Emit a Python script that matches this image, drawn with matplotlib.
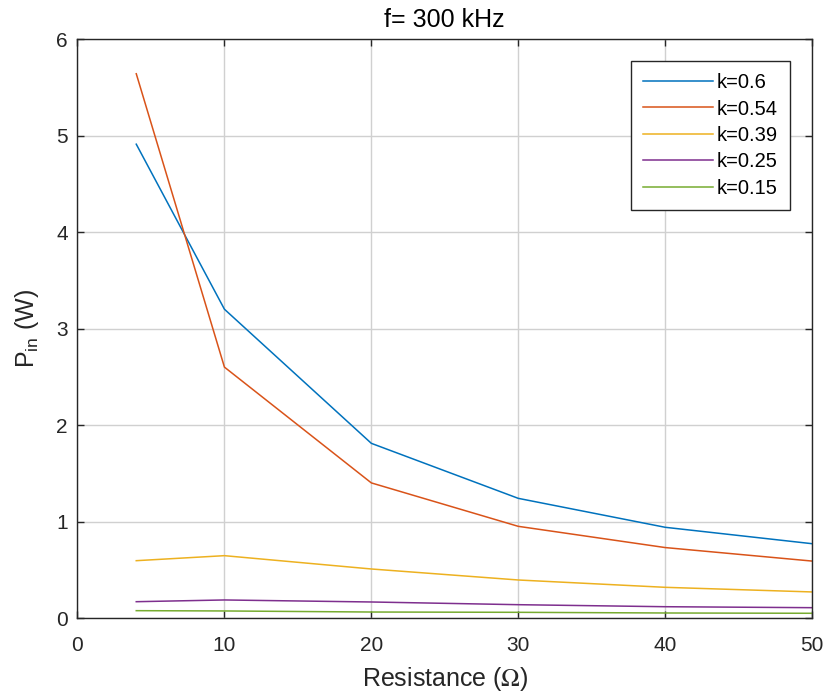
import matplotlib
matplotlib.use("Agg")
import matplotlib.pyplot as plt

plt.rcParams['font.family'] = ['Liberation Sans', 'DejaVu Sans']
plt.rcParams['mathtext.fontset'] = 'custom'
plt.rcParams['mathtext.rm'] = 'Liberation Sans'

resistance = [4, 10, 20, 30, 40, 50]
labels = ['k=0.6', 'k=0.54', 'k=0.39', 'k=0.25', 'k=0.15']
k060 = [4.91, 3.20, 1.81, 1.24, 0.94, 0.77]
k054 = [5.64, 2.60, 1.40, 0.95, 0.73, 0.59]
k039 = [0.594, 0.646, 0.508, 0.394, 0.318, 0.27]
k025 = [0.169, 0.187, 0.166, 0.138, 0.117, 0.107]
k015 = [0.076, 0.073, 0.062, 0.059, 0.052, 0.049]
colors = ['#0072BD', '#D95319', '#EDB120', '#7E2F8E', '#77AC30']

fig = plt.figure(figsize=(8.27, 6.94), dpi=100)
ax = fig.add_axes([0.0937, 0.1095, 0.8883, 0.8343])
for s, lab, c in zip([k060, k054, k039, k025, k015], labels, colors):
    ax.plot(resistance, s, color=c, lw=1.1, label=lab)

ax.set_xlim(0, 50)
ax.set_ylim(0, 6)
ax.set_xticks([0, 10, 20, 30, 40, 50])
ax.set_yticks([0, 1, 2, 3, 4, 5, 6])
ax.grid(True, color='#d0d0d0', lw=1)
ax.set_axisbelow(True)
ax.tick_params(direction='in', top=True, right=True, labelsize=15, length=5, width=1, colors='#262626')
ax.tick_params(axis='x', pad=13)
ax.tick_params(axis='y', pad=7)
for sp in ax.spines.values():
    sp.set_color('#262626')
    sp.set_linewidth(1)
ax.set_xlabel(r'Resistance ($\Omega$)', fontsize=18, color='#262626', labelpad=7,
              math_fontfamily='stix')
ax.set_ylabel(r'P$_{\mathregular{in}}$ (W)', fontsize=18, color='#262626', labelpad=11)
ax.set_title('f= 300 kHz', fontsize=18, color='#000000', pad=9)

leg = ax.legend(loc='upper right', bbox_to_anchor=(0.970, 0.962), borderaxespad=0,
                fontsize=14.5, frameon=True,
                fancybox=False, edgecolor='#262626', framealpha=1, handlelength=3.45,
                borderpad=0.6, labelspacing=0.37, handletextpad=0.2)
leg.get_frame().set_linewidth(1)

fig.savefig('out.png', dpi=100)
